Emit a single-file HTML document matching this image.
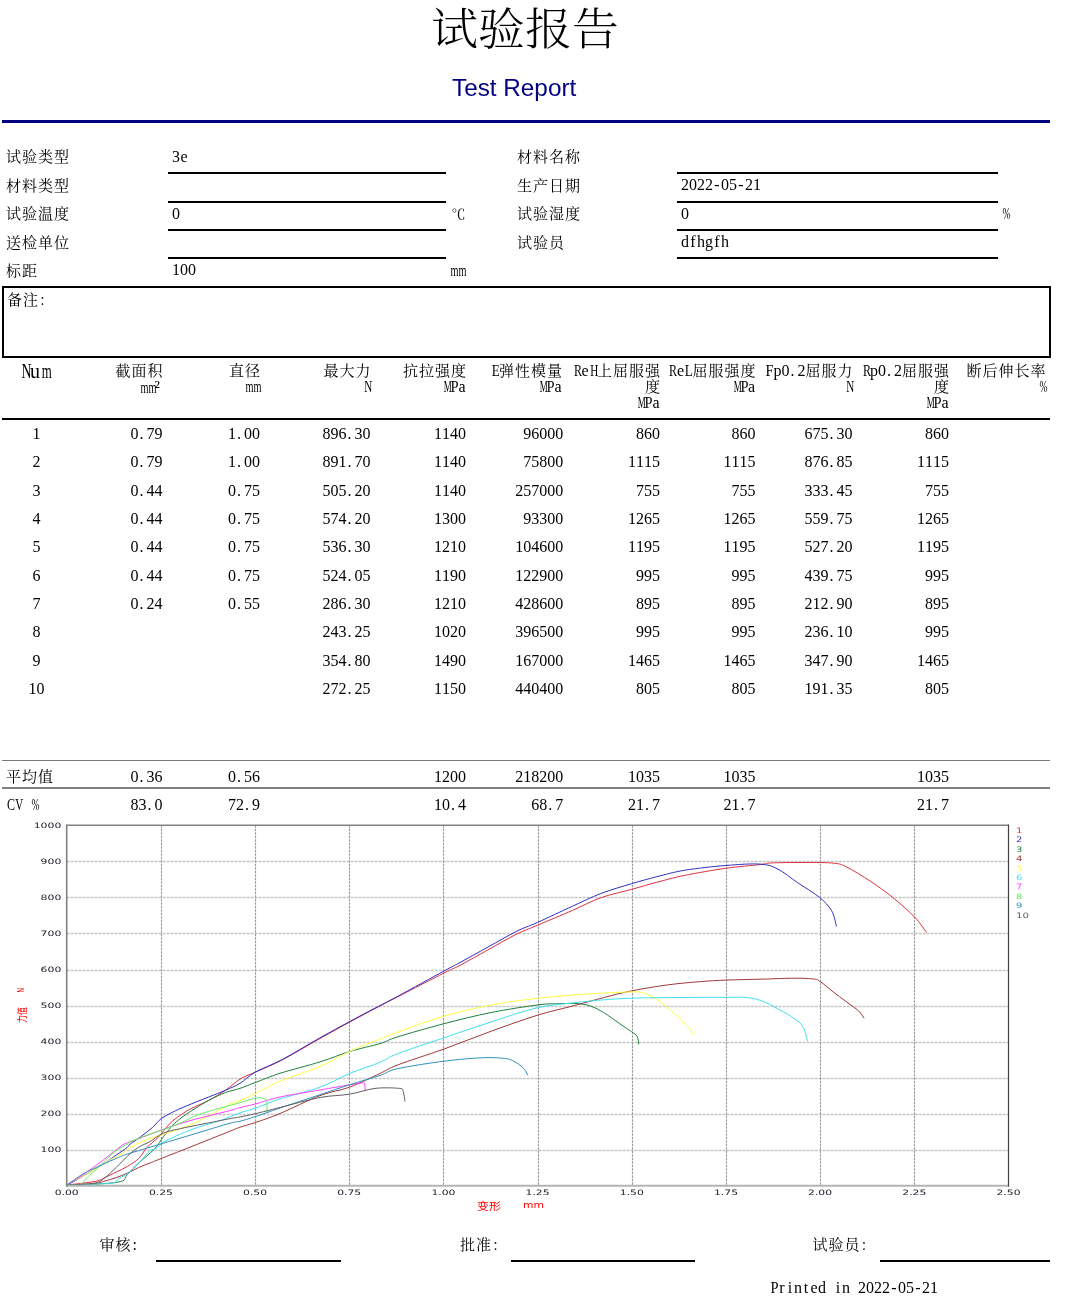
<!DOCTYPE html>
<html lang="zh-CN"><head><meta charset="utf-8"><title>试验报告</title>
<style>
*{margin:0;padding:0;box-sizing:border-box}
html,body{width:1067px;height:1297px;background:#fff;overflow:hidden}
body{position:relative;font-family:'Liberation Serif', 'Noto Serif CJK SC', serif;color:#000;font-size:16px;line-height:16px}
.t{position:absolute;white-space:nowrap;line-height:16px}
.r{text-align:right}
.n{font-size:15px;letter-spacing:0.5px}
.c{font-size:15px;letter-spacing:1px}
.hl{position:absolute;background:#000;height:2px}
i{font-style:normal;display:inline-block;text-align:center;width:8px}
i.p{text-align:left;text-indent:1px}
</style></head>
<body>
<div class="t" style="left:431px;top:5px;font-size:47px;line-height:52px;font-weight:300;transform:scaleY(0.95);transform-origin:0 0">试验报告</div>
<div class="t" style="left:452px;top:74px;font-family:'Liberation Sans',sans-serif;font-size:24.3px;line-height:28px;color:#000080">Test Report</div>
<div class="hl" style="left:2px;width:1048px;top:120px;height:3px;background:#000080"></div>
<div class="t" style="left:6px;top:149.3px;"><span class="c">试验类型</span></div>
<div class="t" style="left:172px;top:149.0px;"><i>3</i><i>e</i></div>
<div class="t" style="left:6px;top:177.75px;"><span class="c">材料类型</span></div>
<div class="t" style="left:6px;top:206.2px;"><span class="c">试验温度</span></div>
<div class="t" style="left:172px;top:205.67px;"><i>0</i></div>
<div class="t" style="left:6px;top:234.65px;"><span class="c">送检单位</span></div>
<div class="t" style="left:6px;top:263.1px;"><span class="c">标距</span></div>
<div class="t" style="left:172px;top:262.33px;"><i>1</i><i>0</i><i>0</i></div>
<div class="t" style="left:517px;top:149.3px;"><span class="c">材料名称</span></div>
<div class="t" style="left:517px;top:177.75px;"><span class="c">生产日期</span></div>
<div class="t" style="left:681px;top:177.33px;"><i>2</i><i>0</i><i>2</i><i>2</i><i>-</i><i>0</i><i>5</i><i>-</i><i>2</i><i>1</i></div>
<div class="t" style="left:517px;top:206.2px;"><span class="c">试验湿度</span></div>
<div class="t" style="left:681px;top:205.67px;"><i>0</i></div>
<div class="t" style="left:517px;top:234.65px;"><span class="c">试验员</span></div>
<div class="t" style="left:681px;top:234.0px;"><i>d</i><i>f</i><i>h</i><i>g</i><i>f</i><i>h</i></div>
<div class="t" style="left:451.5px;top:206.67px;font-size:14px">℃</div>
<div class="t" style="left:449px;top:263.33px;"><i style="transform:scaleX(0.643)">m</i><i style="transform:scaleX(0.643)">m</i></div>
<div class="t" style="left:1000.5px;top:205.67px;"><i style="transform:scaleX(0.600)">%</i></div>
<div class="hl" style="left:168px;width:278px;top:172px;height:2px;background:#000"></div>
<div class="hl" style="left:677px;width:321px;top:172px;height:2px;background:#000"></div>
<div class="hl" style="left:168px;width:278px;top:200.5px;height:2px;background:#000"></div>
<div class="hl" style="left:677px;width:321px;top:200.5px;height:2px;background:#000"></div>
<div class="hl" style="left:168px;width:278px;top:229px;height:2px;background:#000"></div>
<div class="hl" style="left:677px;width:321px;top:229px;height:2px;background:#000"></div>
<div class="hl" style="left:168px;width:278px;top:257px;height:2px;background:#000"></div>
<div class="hl" style="left:677px;width:321px;top:257px;height:2px;background:#000"></div>
<div style="position:absolute;left:2px;top:286px;width:1049px;height:72px;border:2px solid #000"></div>
<div class="t" style="left:7px;top:292px;"><span class="c">备注：</span></div>
<div class="t" style="left:20px;top:361px;font-size:20px;line-height:20px"><i style="width:10.0px;transform:scaleX(0.693)">N</i><i style="width:10.0px">u</i><i style="width:10.0px;transform:scaleX(0.643)">m</i></div>
<div class="t r" style="right:903.5px;top:363px;"><span class="c">截面积</span></div>
<div class="t r" style="right:904.5px;top:379px;"><i style="transform:scaleX(0.643)">m</i><i style="transform:scaleX(0.643)">m</i><i style="text-align:left;font-size:18px">²</i></div>
<div class="t r" style="right:806px;top:363px;"><span class="c">直径</span></div>
<div class="t r" style="right:807px;top:379px;"><i style="transform:scaleX(0.643)">m</i><i style="transform:scaleX(0.643)">m</i></div>
<div class="t r" style="right:695.5px;top:363px;"><span class="c">最大力</span></div>
<div class="t r" style="right:696.5px;top:379px;"><i style="transform:scaleX(0.693)">N</i></div>
<div class="t r" style="right:600px;top:363px;"><span class="c">抗拉强度</span></div>
<div class="t r" style="right:601px;top:379px;"><i style="transform:scaleX(0.562)">M</i><i style="transform:scaleX(0.899)">P</i><i>a</i></div>
<div class="t r" style="right:504px;top:363px;"><i style="transform:scaleX(0.819)">E</i><span class="c">弹性模量</span></div>
<div class="t r" style="right:505px;top:379px;"><i style="transform:scaleX(0.562)">M</i><i style="transform:scaleX(0.899)">P</i><i>a</i></div>
<div class="t r" style="right:406px;top:363px;"><i style="transform:scaleX(0.750)">R</i><i>e</i><i style="transform:scaleX(0.693)">H</i><span class="c">上屈服强</span></div>
<div class="t r" style="right:406px;top:379px;"><span class="c">度</span></div>
<div class="t r" style="right:407px;top:395px;"><i style="transform:scaleX(0.562)">M</i><i style="transform:scaleX(0.899)">P</i><i>a</i></div>
<div class="t r" style="right:310.5px;top:363px;"><i style="transform:scaleX(0.750)">R</i><i>e</i><i style="transform:scaleX(0.819)">L</i><span class="c">屈服强度</span></div>
<div class="t r" style="right:311.5px;top:379px;"><i style="transform:scaleX(0.562)">M</i><i style="transform:scaleX(0.899)">P</i><i>a</i></div>
<div class="t r" style="right:213.5px;top:363px;"><i style="transform:scaleX(0.899)">F</i><i>p</i><i>0</i><i class="p">.</i><i>2</i><span class="c">屈服力</span></div>
<div class="t r" style="right:214.5px;top:379px;"><i style="transform:scaleX(0.693)">N</i></div>
<div class="t r" style="right:117px;top:363px;"><i style="transform:scaleX(0.750)">R</i><i>p</i><i>0</i><i class="p">.</i><i>2</i><span class="c">屈服强</span></div>
<div class="t r" style="right:117px;top:379px;"><span class="c">度</span></div>
<div class="t r" style="right:118px;top:395px;"><i style="transform:scaleX(0.562)">M</i><i style="transform:scaleX(0.899)">P</i><i>a</i></div>
<div class="t r" style="right:20.5px;top:363px;"><span class="c">断后伸长率</span></div>
<div class="t r" style="right:21.5px;top:379px;"><i style="transform:scaleX(0.600)">%</i></div>
<div class="hl" style="left:2px;width:1048px;top:418px;height:2px;background:#000"></div>
<div class="t" style="left:16.5px;width:40px;text-align:center;top:426.0px"><i>1</i></div>
<div class="t r" style="right:904.5px;top:426.0px;"><i>0</i><i class="p">.</i><i>7</i><i>9</i></div>
<div class="t r" style="right:807px;top:426.0px;"><i>1</i><i class="p">.</i><i>0</i><i>0</i></div>
<div class="t r" style="right:696.5px;top:426.0px;"><i>8</i><i>9</i><i>6</i><i class="p">.</i><i>3</i><i>0</i></div>
<div class="t r" style="right:601px;top:426.0px;"><i>1</i><i>1</i><i>4</i><i>0</i></div>
<div class="t r" style="right:503.70000000000005px;top:426.0px;"><i>9</i><i>6</i><i>0</i><i>0</i><i>0</i></div>
<div class="t r" style="right:407px;top:426.0px;"><i>8</i><i>6</i><i>0</i></div>
<div class="t r" style="right:311.5px;top:426.0px;"><i>8</i><i>6</i><i>0</i></div>
<div class="t r" style="right:214.5px;top:426.0px;"><i>6</i><i>7</i><i>5</i><i class="p">.</i><i>3</i><i>0</i></div>
<div class="t r" style="right:118px;top:426.0px;"><i>8</i><i>6</i><i>0</i></div>
<div class="t" style="left:16.5px;width:40px;text-align:center;top:454.33px"><i>2</i></div>
<div class="t r" style="right:904.5px;top:454.33px;"><i>0</i><i class="p">.</i><i>7</i><i>9</i></div>
<div class="t r" style="right:807px;top:454.33px;"><i>1</i><i class="p">.</i><i>0</i><i>0</i></div>
<div class="t r" style="right:696.5px;top:454.33px;"><i>8</i><i>9</i><i>1</i><i class="p">.</i><i>7</i><i>0</i></div>
<div class="t r" style="right:601px;top:454.33px;"><i>1</i><i>1</i><i>4</i><i>0</i></div>
<div class="t r" style="right:503.70000000000005px;top:454.33px;"><i>7</i><i>5</i><i>8</i><i>0</i><i>0</i></div>
<div class="t r" style="right:407px;top:454.33px;"><i>1</i><i>1</i><i>1</i><i>5</i></div>
<div class="t r" style="right:311.5px;top:454.33px;"><i>1</i><i>1</i><i>1</i><i>5</i></div>
<div class="t r" style="right:214.5px;top:454.33px;"><i>8</i><i>7</i><i>6</i><i class="p">.</i><i>8</i><i>5</i></div>
<div class="t r" style="right:118px;top:454.33px;"><i>1</i><i>1</i><i>1</i><i>5</i></div>
<div class="t" style="left:16.5px;width:40px;text-align:center;top:482.67px"><i>3</i></div>
<div class="t r" style="right:904.5px;top:482.67px;"><i>0</i><i class="p">.</i><i>4</i><i>4</i></div>
<div class="t r" style="right:807px;top:482.67px;"><i>0</i><i class="p">.</i><i>7</i><i>5</i></div>
<div class="t r" style="right:696.5px;top:482.67px;"><i>5</i><i>0</i><i>5</i><i class="p">.</i><i>2</i><i>0</i></div>
<div class="t r" style="right:601px;top:482.67px;"><i>1</i><i>1</i><i>4</i><i>0</i></div>
<div class="t r" style="right:503.70000000000005px;top:482.67px;"><i>2</i><i>5</i><i>7</i><i>0</i><i>0</i><i>0</i></div>
<div class="t r" style="right:407px;top:482.67px;"><i>7</i><i>5</i><i>5</i></div>
<div class="t r" style="right:311.5px;top:482.67px;"><i>7</i><i>5</i><i>5</i></div>
<div class="t r" style="right:214.5px;top:482.67px;"><i>3</i><i>3</i><i>3</i><i class="p">.</i><i>4</i><i>5</i></div>
<div class="t r" style="right:118px;top:482.67px;"><i>7</i><i>5</i><i>5</i></div>
<div class="t" style="left:16.5px;width:40px;text-align:center;top:511.0px"><i>4</i></div>
<div class="t r" style="right:904.5px;top:511.0px;"><i>0</i><i class="p">.</i><i>4</i><i>4</i></div>
<div class="t r" style="right:807px;top:511.0px;"><i>0</i><i class="p">.</i><i>7</i><i>5</i></div>
<div class="t r" style="right:696.5px;top:511.0px;"><i>5</i><i>7</i><i>4</i><i class="p">.</i><i>2</i><i>0</i></div>
<div class="t r" style="right:601px;top:511.0px;"><i>1</i><i>3</i><i>0</i><i>0</i></div>
<div class="t r" style="right:503.70000000000005px;top:511.0px;"><i>9</i><i>3</i><i>3</i><i>0</i><i>0</i></div>
<div class="t r" style="right:407px;top:511.0px;"><i>1</i><i>2</i><i>6</i><i>5</i></div>
<div class="t r" style="right:311.5px;top:511.0px;"><i>1</i><i>2</i><i>6</i><i>5</i></div>
<div class="t r" style="right:214.5px;top:511.0px;"><i>5</i><i>5</i><i>9</i><i class="p">.</i><i>7</i><i>5</i></div>
<div class="t r" style="right:118px;top:511.0px;"><i>1</i><i>2</i><i>6</i><i>5</i></div>
<div class="t" style="left:16.5px;width:40px;text-align:center;top:539.33px"><i>5</i></div>
<div class="t r" style="right:904.5px;top:539.33px;"><i>0</i><i class="p">.</i><i>4</i><i>4</i></div>
<div class="t r" style="right:807px;top:539.33px;"><i>0</i><i class="p">.</i><i>7</i><i>5</i></div>
<div class="t r" style="right:696.5px;top:539.33px;"><i>5</i><i>3</i><i>6</i><i class="p">.</i><i>3</i><i>0</i></div>
<div class="t r" style="right:601px;top:539.33px;"><i>1</i><i>2</i><i>1</i><i>0</i></div>
<div class="t r" style="right:503.70000000000005px;top:539.33px;"><i>1</i><i>0</i><i>4</i><i>6</i><i>0</i><i>0</i></div>
<div class="t r" style="right:407px;top:539.33px;"><i>1</i><i>1</i><i>9</i><i>5</i></div>
<div class="t r" style="right:311.5px;top:539.33px;"><i>1</i><i>1</i><i>9</i><i>5</i></div>
<div class="t r" style="right:214.5px;top:539.33px;"><i>5</i><i>2</i><i>7</i><i class="p">.</i><i>2</i><i>0</i></div>
<div class="t r" style="right:118px;top:539.33px;"><i>1</i><i>1</i><i>9</i><i>5</i></div>
<div class="t" style="left:16.5px;width:40px;text-align:center;top:567.67px"><i>6</i></div>
<div class="t r" style="right:904.5px;top:567.67px;"><i>0</i><i class="p">.</i><i>4</i><i>4</i></div>
<div class="t r" style="right:807px;top:567.67px;"><i>0</i><i class="p">.</i><i>7</i><i>5</i></div>
<div class="t r" style="right:696.5px;top:567.67px;"><i>5</i><i>2</i><i>4</i><i class="p">.</i><i>0</i><i>5</i></div>
<div class="t r" style="right:601px;top:567.67px;"><i>1</i><i>1</i><i>9</i><i>0</i></div>
<div class="t r" style="right:503.70000000000005px;top:567.67px;"><i>1</i><i>2</i><i>2</i><i>9</i><i>0</i><i>0</i></div>
<div class="t r" style="right:407px;top:567.67px;"><i>9</i><i>9</i><i>5</i></div>
<div class="t r" style="right:311.5px;top:567.67px;"><i>9</i><i>9</i><i>5</i></div>
<div class="t r" style="right:214.5px;top:567.67px;"><i>4</i><i>3</i><i>9</i><i class="p">.</i><i>7</i><i>5</i></div>
<div class="t r" style="right:118px;top:567.67px;"><i>9</i><i>9</i><i>5</i></div>
<div class="t" style="left:16.5px;width:40px;text-align:center;top:596.0px"><i>7</i></div>
<div class="t r" style="right:904.5px;top:596.0px;"><i>0</i><i class="p">.</i><i>2</i><i>4</i></div>
<div class="t r" style="right:807px;top:596.0px;"><i>0</i><i class="p">.</i><i>5</i><i>5</i></div>
<div class="t r" style="right:696.5px;top:596.0px;"><i>2</i><i>8</i><i>6</i><i class="p">.</i><i>3</i><i>0</i></div>
<div class="t r" style="right:601px;top:596.0px;"><i>1</i><i>2</i><i>1</i><i>0</i></div>
<div class="t r" style="right:503.70000000000005px;top:596.0px;"><i>4</i><i>2</i><i>8</i><i>6</i><i>0</i><i>0</i></div>
<div class="t r" style="right:407px;top:596.0px;"><i>8</i><i>9</i><i>5</i></div>
<div class="t r" style="right:311.5px;top:596.0px;"><i>8</i><i>9</i><i>5</i></div>
<div class="t r" style="right:214.5px;top:596.0px;"><i>2</i><i>1</i><i>2</i><i class="p">.</i><i>9</i><i>0</i></div>
<div class="t r" style="right:118px;top:596.0px;"><i>8</i><i>9</i><i>5</i></div>
<div class="t" style="left:16.5px;width:40px;text-align:center;top:624.33px"><i>8</i></div>
<div class="t r" style="right:696.5px;top:624.33px;"><i>2</i><i>4</i><i>3</i><i class="p">.</i><i>2</i><i>5</i></div>
<div class="t r" style="right:601px;top:624.33px;"><i>1</i><i>0</i><i>2</i><i>0</i></div>
<div class="t r" style="right:503.70000000000005px;top:624.33px;"><i>3</i><i>9</i><i>6</i><i>5</i><i>0</i><i>0</i></div>
<div class="t r" style="right:407px;top:624.33px;"><i>9</i><i>9</i><i>5</i></div>
<div class="t r" style="right:311.5px;top:624.33px;"><i>9</i><i>9</i><i>5</i></div>
<div class="t r" style="right:214.5px;top:624.33px;"><i>2</i><i>3</i><i>6</i><i class="p">.</i><i>1</i><i>0</i></div>
<div class="t r" style="right:118px;top:624.33px;"><i>9</i><i>9</i><i>5</i></div>
<div class="t" style="left:16.5px;width:40px;text-align:center;top:652.67px"><i>9</i></div>
<div class="t r" style="right:696.5px;top:652.67px;"><i>3</i><i>5</i><i>4</i><i class="p">.</i><i>8</i><i>0</i></div>
<div class="t r" style="right:601px;top:652.67px;"><i>1</i><i>4</i><i>9</i><i>0</i></div>
<div class="t r" style="right:503.70000000000005px;top:652.67px;"><i>1</i><i>6</i><i>7</i><i>0</i><i>0</i><i>0</i></div>
<div class="t r" style="right:407px;top:652.67px;"><i>1</i><i>4</i><i>6</i><i>5</i></div>
<div class="t r" style="right:311.5px;top:652.67px;"><i>1</i><i>4</i><i>6</i><i>5</i></div>
<div class="t r" style="right:214.5px;top:652.67px;"><i>3</i><i>4</i><i>7</i><i class="p">.</i><i>9</i><i>0</i></div>
<div class="t r" style="right:118px;top:652.67px;"><i>1</i><i>4</i><i>6</i><i>5</i></div>
<div class="t" style="left:16.5px;width:40px;text-align:center;top:681.0px"><i>1</i><i>0</i></div>
<div class="t r" style="right:696.5px;top:681.0px;"><i>2</i><i>7</i><i>2</i><i class="p">.</i><i>2</i><i>5</i></div>
<div class="t r" style="right:601px;top:681.0px;"><i>1</i><i>1</i><i>5</i><i>0</i></div>
<div class="t r" style="right:503.70000000000005px;top:681.0px;"><i>4</i><i>4</i><i>0</i><i>4</i><i>0</i><i>0</i></div>
<div class="t r" style="right:407px;top:681.0px;"><i>8</i><i>0</i><i>5</i></div>
<div class="t r" style="right:311.5px;top:681.0px;"><i>8</i><i>0</i><i>5</i></div>
<div class="t r" style="right:214.5px;top:681.0px;"><i>1</i><i>9</i><i>1</i><i class="p">.</i><i>3</i><i>5</i></div>
<div class="t r" style="right:118px;top:681.0px;"><i>8</i><i>0</i><i>5</i></div>
<div class="hl" style="left:2px;width:1048px;top:760px;height:1px;background:#7a7a7a"></div>
<div class="t" style="left:6px;top:768.5px;"><span class="c">平均值</span></div>
<div class="t r" style="right:904.5px;top:768.5px;"><i>0</i><i class="p">.</i><i>3</i><i>6</i></div>
<div class="t r" style="right:807px;top:768.5px;"><i>0</i><i class="p">.</i><i>5</i><i>6</i></div>
<div class="t r" style="right:601px;top:768.5px;"><i>1</i><i>2</i><i>0</i><i>0</i></div>
<div class="t r" style="right:503.70000000000005px;top:768.5px;"><i>2</i><i>1</i><i>8</i><i>2</i><i>0</i><i>0</i></div>
<div class="t r" style="right:407px;top:768.5px;"><i>1</i><i>0</i><i>3</i><i>5</i></div>
<div class="t r" style="right:311.5px;top:768.5px;"><i>1</i><i>0</i><i>3</i><i>5</i></div>
<div class="t r" style="right:118px;top:768.5px;"><i>1</i><i>0</i><i>3</i><i>5</i></div>
<div class="hl" style="left:2px;width:1048px;top:787px;height:2px;background:#808080"></div>
<div class="t" style="left:6px;top:796.8333333333334px;"><i style="transform:scaleX(0.750)">C</i><i style="transform:scaleX(0.693)">V</i><i style="width:4.0px"></i> <i style="transform:scaleX(0.600)">%</i></div>
<div class="t r" style="right:904.5px;top:796.8333333333334px;"><i>8</i><i>3</i><i class="p">.</i><i>0</i></div>
<div class="t r" style="right:807px;top:796.8333333333334px;"><i>7</i><i>2</i><i class="p">.</i><i>9</i></div>
<div class="t r" style="right:601px;top:796.8333333333334px;"><i>1</i><i>0</i><i class="p">.</i><i>4</i></div>
<div class="t r" style="right:503.70000000000005px;top:796.8333333333334px;"><i>6</i><i>8</i><i class="p">.</i><i>7</i></div>
<div class="t r" style="right:407px;top:796.8333333333334px;"><i>2</i><i>1</i><i class="p">.</i><i>7</i></div>
<div class="t r" style="right:311.5px;top:796.8333333333334px;"><i>2</i><i>1</i><i class="p">.</i><i>7</i></div>
<div class="t r" style="right:118px;top:796.8333333333334px;"><i>2</i><i>1</i><i class="p">.</i><i>7</i></div>
<div class="t" style="left:99.5px;top:1237px;"><span class="c">审核</span><i class="p">:</i></div>
<div class="hl" style="left:156px;width:185px;top:1259.5px;height:2px;background:#000"></div>
<div class="t" style="left:460px;top:1237px;"><span class="c">批准：</span></div>
<div class="hl" style="left:511px;width:184px;top:1259.5px;height:2px;background:#000"></div>
<div class="t" style="left:812.5px;top:1237px;"><span class="c">试验员：</span></div>
<div class="hl" style="left:880px;width:170px;top:1259.5px;height:2px;background:#000"></div>
<div class="t" style="left:770px;top:1280px;"><i style="transform:scaleX(0.899)">P</i><i>r</i><i>i</i><i>n</i><i>t</i><i>e</i><i>d</i><i style="width:4.0px"></i> <i>i</i><i>n</i><i style="width:4.0px"></i> <i>2</i><i>0</i><i>2</i><i>2</i><i>-</i><i>0</i><i>5</i><i>-</i><i>2</i><i>1</i></div>
<svg style="position:absolute;left:0;top:815px" width="1067" height="400" viewBox="0 815 1067 400"><g stroke="#c4c4c4" stroke-width="1.3" stroke-dasharray="3,1"><line x1="66.7" y1="1150.5" x2="1008.5" y2="1150.5"/><line x1="66.7" y1="1114.5" x2="1008.5" y2="1114.5"/><line x1="66.7" y1="1078.5" x2="1008.5" y2="1078.5"/><line x1="66.7" y1="1042.5" x2="1008.5" y2="1042.5"/><line x1="66.7" y1="1006.5" x2="1008.5" y2="1006.5"/><line x1="66.7" y1="970.5" x2="1008.5" y2="970.5"/><line x1="66.7" y1="933.5" x2="1008.5" y2="933.5"/><line x1="66.7" y1="897.5" x2="1008.5" y2="897.5"/><line x1="66.7" y1="861.5" x2="1008.5" y2="861.5"/></g><g stroke="#999" stroke-width="1.1" stroke-dasharray="2.5,1"><line x1="161.5" y1="825.3" x2="161.5" y2="1185.8"/><line x1="255.5" y1="825.3" x2="255.5" y2="1185.8"/><line x1="349.5" y1="825.3" x2="349.5" y2="1185.8"/><line x1="443.5" y1="825.3" x2="443.5" y2="1185.8"/><line x1="538.5" y1="825.3" x2="538.5" y2="1185.8"/><line x1="632.5" y1="825.3" x2="632.5" y2="1185.8"/><line x1="726.5" y1="825.3" x2="726.5" y2="1185.8"/><line x1="820.5" y1="825.3" x2="820.5" y2="1185.8"/><line x1="914.5" y1="825.3" x2="914.5" y2="1185.8"/></g><path d="M67.0,1185.0 C69.6,1184.7 77.5,1183.9 82.5,1183.2 C87.5,1182.5 93.3,1181.9 97.1,1181.0 C100.8,1180.1 101.8,1179.1 105.0,1177.6 C108.2,1176.1 112.5,1173.9 116.2,1172.0 C120.0,1170.1 123.8,1168.7 127.5,1166.4 C131.2,1164.2 135.5,1161.6 138.7,1158.5 C141.9,1155.4 143.7,1151.1 146.9,1147.6 C150.1,1144.1 154.3,1141.4 158.1,1137.5 C161.8,1133.6 165.7,1127.8 169.4,1124.0 C173.2,1120.2 176.8,1117.6 180.6,1115.0 C184.3,1112.4 187.2,1110.6 191.9,1108.2 C196.6,1105.8 203.1,1103.4 208.7,1100.4 C214.3,1097.4 220.4,1093.8 225.6,1090.2 C230.8,1086.7 235.0,1082.1 240.0,1079.1 C245.0,1076.1 248.3,1075.3 255.4,1072.1 C262.5,1068.9 271.7,1065.4 282.5,1059.8 C293.3,1054.2 307.1,1045.7 320.0,1038.5 C332.9,1031.3 347.1,1023.4 360.0,1016.5 C372.9,1009.6 383.5,1004.1 397.5,996.9 C411.5,989.6 433.6,978.3 444.0,973.0 C454.4,967.7 452.6,969.2 460.0,965.3 C467.4,961.4 478.7,955.0 488.1,949.8 C497.5,944.6 508.0,938.4 516.2,934.3 C524.4,930.2 527.9,929.3 537.3,925.3 C546.7,921.3 562.0,915.0 572.5,910.4 C583.0,905.8 590.8,901.3 600.6,897.8 C610.4,894.3 622.1,892.0 631.5,889.4 C640.9,886.8 647.9,884.6 656.8,882.3 C665.7,879.9 673.4,877.6 684.9,875.3 C696.4,873.0 713.2,870.1 725.7,868.3 C738.2,866.5 752.5,865.5 760.0,864.6 C767.5,863.7 764.0,863.4 770.7,863.0 C777.4,862.6 789.9,862.5 800.0,862.5 C810.1,862.5 823.9,862.3 831.6,863.0 C839.3,863.7 839.7,863.7 846.2,866.8 C852.7,869.9 862.9,876.3 870.6,881.4 C878.3,886.5 885.2,891.4 892.5,897.3 C899.8,903.2 908.7,910.9 914.4,916.8 C920.1,922.7 924.6,930.0 926.6,932.6" fill="none" stroke="#e03040" stroke-width="1" stroke-linejoin="round"/><path d="M67.0,1185.0 C68.3,1184.3 71.1,1183.0 74.6,1181.0 C78.1,1179.0 84.3,1175.3 88.1,1173.1 C91.8,1170.8 94.3,1169.2 97.1,1167.5 C99.9,1165.8 101.8,1165.1 105.0,1163.0 C108.2,1160.9 112.5,1157.7 116.2,1155.1 C120.0,1152.5 125.2,1149.0 127.5,1147.2 C129.8,1145.4 127.7,1146.0 130.0,1144.2 C132.3,1142.4 137.4,1139.2 141.2,1136.4 C144.9,1133.6 149.1,1130.4 152.5,1127.4 C155.9,1124.4 158.1,1120.9 161.5,1118.4 C164.9,1115.9 168.6,1114.3 172.7,1112.2 C176.8,1110.1 180.2,1108.5 186.2,1106.0 C192.2,1103.5 202.1,1099.6 208.7,1097.0 C215.3,1094.4 220.4,1092.5 225.6,1090.2 C230.8,1087.9 235.0,1086.3 240.0,1083.3 C245.0,1080.3 248.3,1076.1 255.4,1072.1 C262.5,1068.1 271.7,1065.1 282.5,1059.4 C293.3,1053.7 307.1,1045.0 320.0,1037.8 C332.9,1030.6 347.1,1022.9 360.0,1016.0 C372.9,1009.1 383.5,1003.9 397.5,996.4 C411.5,988.9 433.6,976.6 444.0,971.0 C454.4,965.4 452.6,966.5 460.0,962.5 C467.4,958.5 478.7,952.2 488.1,947.0 C497.5,941.8 508.0,935.6 516.2,931.5 C524.4,927.4 527.9,926.7 537.3,922.5 C546.7,918.3 562.0,911.0 572.5,906.2 C583.0,901.4 590.8,897.4 600.6,893.6 C610.4,889.9 622.1,886.5 631.5,883.7 C640.9,880.9 647.9,879.0 656.8,876.7 C665.7,874.5 673.4,872.1 684.9,870.2 C696.4,868.3 713.2,866.5 725.7,865.5 C738.2,864.5 751.3,863.5 760.0,864.1 C768.7,864.7 771.8,866.1 778.0,869.2 C784.2,872.3 790.6,877.9 797.5,882.6 C804.4,887.3 813.7,892.6 819.4,897.3 C825.1,902.0 828.8,905.8 831.6,910.7 C834.5,915.6 835.7,923.9 836.5,926.5" fill="none" stroke="#3030c0" stroke-width="1" stroke-linejoin="round"/><path d="M67.0,1185.0 C70.8,1184.9 81.0,1185.1 90.0,1184.5 C99.0,1183.9 114.5,1183.2 120.7,1181.5 C127.0,1179.8 124.5,1177.3 127.5,1174.2 C130.5,1171.1 134.2,1167.2 138.7,1163.0 C143.2,1158.8 150.5,1153.1 154.7,1148.7 C158.9,1144.3 160.3,1140.7 163.7,1136.4 C167.1,1132.1 170.3,1127.2 175.0,1122.9 C179.7,1118.6 186.3,1114.2 191.9,1110.5 C197.5,1106.8 203.1,1103.4 208.7,1100.4 C214.3,1097.4 220.4,1094.5 225.6,1092.5 C230.8,1090.5 235.0,1090.1 240.0,1088.4 C245.0,1086.7 248.7,1085.0 255.4,1082.5 C262.1,1080.0 269.2,1076.7 280.0,1073.3 C290.8,1069.9 308.4,1065.5 320.0,1061.9 C331.6,1058.3 339.4,1054.6 349.4,1051.6 C359.4,1048.5 372.0,1046.0 380.0,1043.6 C388.0,1041.1 386.8,1040.2 397.5,1036.9 C408.2,1033.6 428.4,1027.8 444.0,1023.7 C459.6,1019.6 475.7,1015.6 491.2,1012.5 C506.7,1009.4 525.8,1006.5 537.1,1005.0 C548.4,1003.5 552.2,1003.9 559.1,1003.7 C566.0,1003.5 572.9,1003.3 578.2,1003.7 C583.5,1004.1 586.8,1004.7 591.0,1006.2 C595.2,1007.7 598.9,1009.7 603.7,1012.6 C608.5,1015.5 615.1,1020.5 619.7,1023.7 C624.3,1026.9 628.6,1029.6 631.5,1031.7 C634.4,1033.8 636.0,1034.4 637.2,1036.5 C638.4,1038.6 638.5,1043.1 638.8,1044.4" fill="none" stroke="#208040" stroke-width="1" stroke-linejoin="round"/><path d="M67.0,1185.0 C71.5,1184.8 87.4,1184.5 93.7,1183.8 C100.0,1183.1 101.2,1182.0 105.0,1181.0 C108.8,1180.0 112.5,1178.9 116.2,1177.6 C120.0,1176.3 123.8,1174.8 127.5,1173.1 C131.2,1171.4 134.9,1169.2 138.7,1167.5 C142.4,1165.8 146.2,1164.5 150.0,1163.0 C153.8,1161.5 155.2,1160.9 161.2,1158.5 C167.2,1156.1 178.3,1151.8 186.2,1148.7 C194.1,1145.6 201.2,1142.7 208.7,1139.7 C216.2,1136.7 226.0,1132.8 231.2,1130.7 C236.4,1128.6 236.0,1128.6 240.0,1127.2 C244.0,1125.8 248.7,1124.8 255.4,1122.5 C262.1,1120.2 269.2,1118.0 280.0,1113.5 C290.8,1109.0 308.4,1100.0 320.0,1095.6 C331.6,1091.2 339.4,1090.9 349.4,1087.2 C359.4,1083.5 372.0,1077.2 380.0,1073.5 C388.0,1069.8 386.8,1069.1 397.5,1065.0 C408.2,1060.9 428.4,1054.6 444.0,1049.0 C459.6,1043.4 475.7,1036.8 491.2,1031.2 C506.7,1025.6 523.6,1019.5 537.1,1015.3 C550.6,1011.1 560.8,1009.2 571.9,1006.2 C583.0,1003.2 593.8,1000.2 603.7,997.6 C613.6,995.0 620.9,993.0 631.5,990.9 C642.1,988.8 656.2,986.4 667.5,984.9 C678.8,983.4 689.6,982.5 699.3,981.7 C709.0,980.9 715.2,980.5 725.8,980.1 C736.4,979.7 751.6,979.4 763.1,979.1 C774.6,978.8 786.5,978.2 795.0,978.2 C803.5,978.2 809.9,978.5 814.1,979.1 C818.3,979.7 817.2,979.6 820.4,981.7 C823.6,983.8 829.0,988.6 833.2,991.9 C837.5,995.2 841.6,998.2 845.9,1001.4 C850.1,1004.6 855.7,1008.2 858.7,1011.0 C861.7,1013.8 863.2,1017.1 864.1,1018.3" fill="none" stroke="#a03838" stroke-width="1" stroke-linejoin="round"/><path d="M67.0,1184.0 C69.6,1182.8 77.1,1179.4 82.5,1176.5 C87.9,1173.6 94.7,1169.2 99.4,1166.4 C104.1,1163.6 106.8,1161.7 110.6,1159.6 C114.3,1157.5 118.7,1156.0 121.9,1154.0 C125.1,1152.0 125.8,1150.0 130.0,1147.6 C134.2,1145.2 141.3,1142.0 146.9,1139.7 C152.5,1137.5 158.1,1136.0 163.7,1134.1 C169.3,1132.2 175.0,1130.6 180.6,1128.5 C186.2,1126.4 191.9,1124.3 197.5,1121.7 C203.1,1119.1 208.7,1115.7 214.3,1112.7 C219.9,1109.7 226.9,1105.7 231.2,1103.7 C235.5,1101.7 236.0,1102.3 240.0,1100.6 C244.0,1098.9 248.7,1096.7 255.4,1093.4 C262.1,1090.2 269.2,1085.6 280.0,1081.1 C290.8,1076.6 308.4,1071.5 320.0,1066.6 C331.6,1061.7 339.4,1056.2 349.4,1051.6 C359.4,1047.0 372.0,1042.1 380.0,1038.9 C388.0,1035.7 386.8,1036.0 397.5,1032.2 C408.2,1028.4 428.4,1020.7 444.0,1016.2 C459.6,1011.7 475.7,1008.0 491.2,1005.0 C506.7,1002.0 523.6,1000.0 537.1,998.4 C550.6,996.8 560.8,996.0 571.9,995.1 C583.0,994.2 593.8,993.6 603.7,993.1 C613.6,992.6 625.1,992.0 631.5,991.9 C637.9,991.8 638.1,991.5 642.0,992.5 C645.9,993.5 650.5,995.7 654.7,998.2 C659.0,1000.8 663.2,1004.3 667.5,1007.8 C671.8,1011.3 676.5,1015.5 680.2,1019.0 C683.9,1022.5 687.7,1025.8 689.8,1028.5 C691.9,1031.2 692.5,1033.8 693.0,1034.9" fill="none" stroke="#ffff40" stroke-width="1" stroke-linejoin="round"/><path d="M67.0,1185.0 C74.3,1184.7 102.0,1184.2 110.6,1183.2 C119.2,1182.2 115.3,1180.6 118.5,1178.7 C121.7,1176.8 125.9,1175.0 129.7,1172.0 C133.4,1169.0 137.6,1164.3 141.0,1160.7 C144.4,1157.1 147.5,1152.6 150.0,1150.6 C152.5,1148.6 153.6,1150.1 155.9,1148.7 C158.2,1147.3 159.6,1144.4 163.7,1142.0 C167.8,1139.6 175.0,1136.5 180.6,1134.1 C186.2,1131.7 190.9,1129.7 197.5,1127.4 C204.1,1125.2 212.9,1123.0 220.0,1120.6 C227.1,1118.2 234.1,1114.9 240.0,1112.8 C245.9,1110.7 248.7,1110.5 255.4,1108.2 C262.1,1105.9 269.2,1102.4 280.0,1098.9 C290.8,1095.4 308.4,1091.4 320.0,1087.2 C331.6,1083.0 339.4,1077.8 349.4,1073.6 C359.4,1069.4 372.0,1065.6 380.0,1062.3 C388.0,1059.0 386.8,1057.8 397.5,1053.7 C408.2,1049.6 428.4,1043.1 444.0,1037.8 C459.6,1032.5 475.7,1026.9 491.2,1021.9 C506.7,1016.9 523.6,1010.9 537.1,1007.8 C550.6,1004.6 560.8,1004.3 571.9,1003.0 C583.0,1001.7 593.8,1000.6 603.7,999.8 C613.6,999.0 620.9,998.6 631.5,998.2 C642.1,997.8 651.8,997.8 667.5,997.6 C683.2,997.5 712.5,997.3 725.8,997.3 C739.1,997.3 740.9,996.9 747.1,997.6 C753.3,998.3 757.8,999.4 763.1,1001.4 C768.4,1003.4 773.7,1006.5 779.0,1009.4 C784.3,1012.3 791.0,1016.1 795.0,1019.0 C799.0,1021.9 800.8,1023.2 802.9,1026.9 C805.0,1030.6 806.9,1038.9 807.7,1041.3" fill="none" stroke="#40e0f0" stroke-width="1" stroke-linejoin="round"/><path d="M67.0,1185.0 C69.9,1183.1 78.1,1178.1 84.4,1173.7 C90.7,1169.3 98.8,1163.4 105.0,1158.7 C111.2,1154.0 118.2,1148.2 121.9,1145.6 C125.7,1142.9 124.1,1144.2 127.5,1142.8 C130.9,1141.4 136.7,1139.4 142.5,1137.2 C148.3,1135.0 154.1,1132.5 162.2,1129.7 C170.3,1126.9 180.1,1123.4 191.2,1120.3 C202.3,1117.2 220.6,1113.0 228.7,1110.9 C236.8,1108.8 235.6,1108.8 240.0,1107.6 C244.4,1106.4 248.7,1105.8 255.4,1104.0 C262.1,1102.2 269.2,1099.3 280.0,1097.0 C290.8,1094.7 308.4,1092.0 320.0,1090.0 C331.6,1088.0 342.3,1086.0 349.4,1084.8 C356.5,1083.6 360.0,1083.1 362.5,1083.0 C365.0,1082.9 364.0,1082.8 364.5,1084.0 C365.0,1085.2 365.2,1089.4 365.3,1090.5" fill="none" stroke="#ff40ff" stroke-width="1" stroke-linejoin="round"/><path d="M67.0,1185.0 C69.2,1184.9 76.7,1185.7 80.2,1184.3 C83.7,1182.9 85.3,1179.1 88.1,1176.5 C90.9,1173.9 93.9,1171.6 97.1,1168.6 C100.3,1165.6 104.0,1161.5 107.2,1158.5 C110.4,1155.5 112.8,1153.0 116.2,1150.6 C119.6,1148.2 125.2,1145.3 127.5,1143.9 C129.8,1142.5 126.8,1143.5 130.0,1142.0 C133.2,1140.5 141.3,1137.3 146.9,1135.2 C152.5,1133.1 158.1,1131.6 163.7,1129.6 C169.3,1127.5 175.0,1125.3 180.6,1122.9 C186.2,1120.5 190.9,1117.5 197.5,1115.0 C204.1,1112.5 212.9,1110.2 220.0,1108.2 C227.1,1106.2 234.1,1104.4 240.0,1102.7 C245.9,1101.0 251.6,1099.0 255.4,1098.2 C259.2,1097.5 261.1,1098.0 262.8,1098.2 C264.5,1098.4 264.8,1099.0 265.5,1099.5 C266.2,1100.0 266.8,1099.1 267.0,1101.0 C267.2,1102.9 266.8,1108.9 267.0,1110.7 C267.2,1112.5 268.2,1111.8 268.5,1112.0" fill="none" stroke="#60f060" stroke-width="1" stroke-linejoin="round"/><path d="M67.9,1184.3 C70.3,1182.6 78.2,1176.8 82.5,1174.2 C86.8,1171.6 87.7,1171.4 93.7,1168.6 C99.7,1165.8 112.9,1159.8 118.5,1157.4 C124.1,1155.0 124.1,1155.1 127.5,1154.0 C130.9,1152.9 134.9,1151.7 138.7,1150.6 C142.4,1149.5 145.8,1148.5 150.0,1147.2 C154.2,1146.0 157.7,1144.9 163.7,1143.1 C169.7,1141.3 178.7,1138.7 186.2,1136.4 C193.7,1134.2 201.2,1131.8 208.7,1129.6 C216.2,1127.3 226.0,1124.3 231.2,1122.9 C236.4,1121.5 236.0,1122.3 240.0,1121.3 C244.0,1120.2 248.7,1118.8 255.4,1116.6 C262.1,1114.4 269.2,1111.7 280.0,1108.0 C290.8,1104.3 308.4,1098.6 320.0,1094.7 C331.6,1090.8 339.4,1088.0 349.4,1084.8 C359.4,1081.6 372.0,1078.2 380.0,1075.5 C388.0,1072.8 386.8,1071.1 397.5,1068.7 C408.2,1066.3 429.9,1063.0 444.0,1061.2 C458.1,1059.4 471.8,1058.3 481.8,1057.8 C491.9,1057.3 499.0,1057.8 504.3,1058.4 C509.6,1059.0 510.6,1059.6 513.7,1061.2 C516.8,1062.8 520.8,1065.5 523.1,1067.8 C525.5,1070.1 527.0,1074.0 527.8,1075.3" fill="none" stroke="#3090c0" stroke-width="1" stroke-linejoin="round"/><path d="M67.0,1185.0 C71.7,1184.7 88.7,1184.2 95.0,1183.0 C101.3,1181.8 101.5,1180.2 105.0,1177.6 C108.5,1175.0 112.5,1171.1 116.2,1167.5 C120.0,1163.9 123.8,1159.6 127.5,1156.2 C131.2,1152.8 134.9,1149.6 138.7,1147.2 C142.4,1144.8 145.8,1144.0 150.0,1141.6 C154.2,1139.2 157.7,1135.4 163.7,1133.0 C169.7,1130.6 178.7,1129.1 186.2,1127.4 C193.7,1125.7 201.2,1124.4 208.7,1122.9 C216.2,1121.4 226.0,1119.4 231.2,1118.4 C236.4,1117.4 236.0,1117.8 240.0,1117.0 C244.0,1116.2 248.7,1115.3 255.4,1113.7 C262.1,1112.1 269.2,1110.2 280.0,1107.5 C290.8,1104.8 308.4,1099.7 320.0,1097.5 C331.6,1095.3 340.2,1095.7 349.4,1094.2 C358.6,1092.7 366.7,1089.4 375.0,1088.4 C383.3,1087.4 394.7,1087.9 399.4,1088.4 C404.1,1088.9 402.2,1089.0 403.1,1091.2 C404.0,1093.4 404.7,1099.8 405.0,1101.5" fill="none" stroke="#606060" stroke-width="1" stroke-linejoin="round"/><line x1="66.7" y1="1185.8" x2="1008.5" y2="1185.8" stroke="#b4b4b4" stroke-width="2"/><line x1="66.7" y1="825.3" x2="1008.5" y2="825.3" stroke="#808080" stroke-width="1.5"/><line x1="66.7" y1="824.55" x2="66.7" y2="1186.8" stroke="#808080" stroke-width="1.6"/><line x1="1008.5" y1="824.55" x2="1008.5" y2="1186.8" stroke="#404040" stroke-width="1.2"/><g font-family="'DejaVu Sans', sans-serif" font-size="7.4" fill="#202030"><text x="61.3" y="1152.3" text-anchor="end" textLength="20.7" lengthAdjust="spacingAndGlyphs">100</text><text x="61.3" y="1116.3" text-anchor="end" textLength="20.7" lengthAdjust="spacingAndGlyphs">200</text><text x="61.3" y="1080.2" text-anchor="end" textLength="20.7" lengthAdjust="spacingAndGlyphs">300</text><text x="61.3" y="1044.2" text-anchor="end" textLength="20.7" lengthAdjust="spacingAndGlyphs">400</text><text x="61.3" y="1008.1" text-anchor="end" textLength="20.7" lengthAdjust="spacingAndGlyphs">500</text><text x="61.3" y="972.1" text-anchor="end" textLength="20.7" lengthAdjust="spacingAndGlyphs">600</text><text x="61.3" y="936.0" text-anchor="end" textLength="20.7" lengthAdjust="spacingAndGlyphs">700</text><text x="61.3" y="900.0" text-anchor="end" textLength="20.7" lengthAdjust="spacingAndGlyphs">800</text><text x="61.3" y="863.9" text-anchor="end" textLength="20.7" lengthAdjust="spacingAndGlyphs">900</text><text x="61.3" y="827.9" text-anchor="end" textLength="27.6" lengthAdjust="spacingAndGlyphs">1000</text><text x="66.7" y="1194.7" text-anchor="middle" textLength="24" lengthAdjust="spacingAndGlyphs">0.00</text><text x="160.9" y="1194.7" text-anchor="middle" textLength="24" lengthAdjust="spacingAndGlyphs">0.25</text><text x="255.1" y="1194.7" text-anchor="middle" textLength="24" lengthAdjust="spacingAndGlyphs">0.50</text><text x="349.2" y="1194.7" text-anchor="middle" textLength="24" lengthAdjust="spacingAndGlyphs">0.75</text><text x="443.4" y="1194.7" text-anchor="middle" textLength="24" lengthAdjust="spacingAndGlyphs">1.00</text><text x="537.6" y="1194.7" text-anchor="middle" textLength="24" lengthAdjust="spacingAndGlyphs">1.25</text><text x="631.8" y="1194.7" text-anchor="middle" textLength="24" lengthAdjust="spacingAndGlyphs">1.50</text><text x="726.0" y="1194.7" text-anchor="middle" textLength="24" lengthAdjust="spacingAndGlyphs">1.75</text><text x="820.1" y="1194.7" text-anchor="middle" textLength="24" lengthAdjust="spacingAndGlyphs">2.00</text><text x="914.3" y="1194.7" text-anchor="middle" textLength="24" lengthAdjust="spacingAndGlyphs">2.25</text><text x="1008.5" y="1194.7" text-anchor="middle" textLength="24" lengthAdjust="spacingAndGlyphs">2.50</text></g><g font-family="'DejaVu Sans', sans-serif" font-size="7.5"><text x="1016" y="833.0" fill="#e03040" textLength="6.4" lengthAdjust="spacingAndGlyphs">1</text><text x="1016" y="842.4" fill="#3030c0" textLength="6.4" lengthAdjust="spacingAndGlyphs">2</text><text x="1016" y="851.8" fill="#208040" textLength="6.4" lengthAdjust="spacingAndGlyphs">3</text><text x="1016" y="861.2" fill="#a03838" textLength="6.4" lengthAdjust="spacingAndGlyphs">4</text><text x="1016" y="870.6" fill="#ffff40" textLength="6.4" lengthAdjust="spacingAndGlyphs">5</text><text x="1016" y="880.0" fill="#40e0f0" textLength="6.4" lengthAdjust="spacingAndGlyphs">6</text><text x="1016" y="889.4" fill="#ff40ff" textLength="6.4" lengthAdjust="spacingAndGlyphs">7</text><text x="1016" y="898.8" fill="#60f060" textLength="6.4" lengthAdjust="spacingAndGlyphs">8</text><text x="1016" y="908.2" fill="#3090c0" textLength="6.4" lengthAdjust="spacingAndGlyphs">9</text><text x="1016" y="917.6" fill="#606060" textLength="13" lengthAdjust="spacingAndGlyphs">10</text></g><text x="477" y="1209.5" font-family="'Liberation Sans', 'Noto Sans CJK SC', sans-serif" font-size="10" fill="#ff0000" textLength="24" lengthAdjust="spacingAndGlyphs">变形</text><text x="523" y="1208" font-family="'DejaVu Sans', sans-serif" font-size="8" fill="#ff0000" textLength="21" lengthAdjust="spacingAndGlyphs">mm</text><text transform="translate(25.5,1023) rotate(-90)" font-family="'Liberation Sans', 'Noto Sans CJK SC', sans-serif" font-size="10" fill="#ff0000" textLength="16" lengthAdjust="spacingAndGlyphs">力值</text><text transform="translate(24,992.7) rotate(-90)" font-family="'DejaVu Sans', sans-serif" font-size="8" fill="#ff0000" textLength="5" lengthAdjust="spacingAndGlyphs">N</text></svg>
</body></html>
